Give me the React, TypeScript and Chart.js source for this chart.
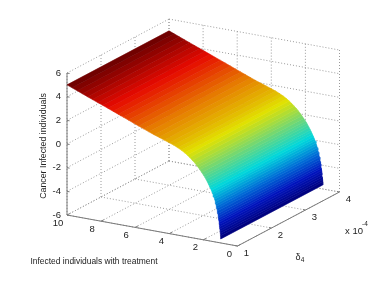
import React, { useEffect, useRef } from "react";
import { Chart, registerables } from "chart.js";

Chart.register(...registerables);

const zTicks = [-6, -4, -2, 0, 2, 4, 6];
const xTicks = [0, 2, 4, 6, 8, 10];
const deltaTicks = [1, 2, 3, 4];
const deltaEnds = [1, 4];

const treated = [10, 9.7, 9.4, 9.1, 8.8, 8.5, 8.2, 7.9, 7.6, 7.3, 7, 6.7, 6.4, 6.1, 5.8, 5.5, 5.2, 4.9, 4.6, 4.3, 4,
  3.75, 3.5, 3.3, 3.1, 2.95, 2.8, 2.65, 2.5, 2.4, 2.3, 2.2, 2.1, 2.0, 1.92, 1.85, 1.78, 1.71, 1.65, 1.59, 1.53, 1.48, 1.43,
  1.38, 1.34, 1.30, 1.27, 1.24, 1.21, 1.18, 1.15, 1.13, 1.11, 1.09, 1.075, 1.06, 1.045, 1.03, 1.015, 1.0, 0.99, 0.98];
const cancer = [5, 4.83, 4.66, 4.49, 4.32, 4.15, 3.98, 3.82, 3.65, 3.48, 3.31, 3.14, 2.97, 2.8, 2.63, 2.46, 2.29, 2.13, 1.98, 1.83, 1.68,
  1.55, 1.39, 1.24, 1.07, 0.92, 0.75, 0.55, 0.36, 0.2, 0.03, -0.14, -0.33, -0.52, -0.68, -0.85, -1.02, -1.2, -1.37, -1.54, -1.71, -1.88, -2.05,
  -2.22, -2.4, -2.6, -2.78, -2.96, -3.15, -3.35, -3.55, -3.73, -3.92, -4.1, -4.28, -4.46, -4.65, -4.83, -5.02, -5.2, -5.4, -5.66];

const paletteR = [0, 0, 0, 0, 110, 225, 230, 230, 105];
const paletteG = [0, 20, 110, 215, 215, 225, 125, 10, 0];
const paletteB = [120, 190, 215, 220, 120, 0, 0, 0, 0];

const project = (X: number, d: number, z: number) => ({
  x: 67 + (10 - X) * 17.05 + (d - 1) * 34,
  y: 215 + (10 - X) * 3.1 - (d - 1) * 18 - (z + 6) * 11.83,
});

const shade = (t: number) => {
  const p = Math.max(0, Math.min(0.9999, t)) * (paletteR.length - 1);
  const i = Math.floor(p);
  const f = p - i;
  const mix = (a: number[]) => Math.round(a[i] + (a[i + 1] - a[i]) * f);
  return `rgb(${mix(paletteR)},${mix(paletteG)},${mix(paletteB)})`;
};

const lineSet = (data: { x: number; y: number }[], color: string, dash: number[] = [], width = 1) => ({
  data, borderColor: color, borderWidth: width, borderDash: dash, showLine: true, pointRadius: 0, fill: false,
});

const GRID = "#9a9a9a";
const AXIS = "#7a7a7a";
const DOTS = [1, 2];

function buildDatasets() {
  const sets: any[] = [];
  const zMin = cancer[cancer.length - 1];
  const zMax = cancer[0];
  for (let i = 0; i < treated.length - 1; i++) {
    const mid = (cancer[i] + cancer[i + 1]) / 2;
    const c = shade((mid - zMin) / (zMax - zMin));
    sets.push({
      data: [
        project(treated[i], deltaEnds[0], cancer[i]),
        project(treated[i], deltaEnds[1], cancer[i]),
        project(treated[i + 1], deltaEnds[1], cancer[i + 1]),
        project(treated[i + 1], deltaEnds[0], cancer[i + 1]),
        project(treated[i], deltaEnds[0], cancer[i]),
      ],
      showLine: true, pointRadius: 0, fill: "shape", backgroundColor: c, borderColor: c, borderWidth: 0.6,
    });
  }
  // axes and tick marks
  sets.push(lineSet([project(10, 1, -6), project(10, 1, 6)], AXIS));
  sets.push(lineSet([project(10, 1, -6), project(0, 1, -6)], AXIS));
  sets.push(lineSet([project(0, 1, -6), project(0, 4, -6)], AXIS));
  zTicks.forEach((z) => sets.push(lineSet([project(10, 1, z), project(9.85, 1, z)], AXIS)));
  xTicks.forEach((X) => sets.push(lineSet([project(X, 1, -6), project(X, 1.08, -6)], AXIS)));
  deltaTicks.forEach((d) => sets.push(lineSet([project(0, d, -6), project(0.15, d, -6)], AXIS)));
  // dotted walls and floor
  zTicks.forEach((z) => {
    sets.push(lineSet([project(10, 1, z), project(10, 4, z)], GRID, DOTS));
    sets.push(lineSet([project(10, 4, z), project(0, 4, z)], GRID, DOTS));
  });
  xTicks.forEach((X) => {
    sets.push(lineSet([project(X, 4, -6), project(X, 4, 6)], GRID, DOTS));
    sets.push(lineSet([project(X, 1, -6), project(X, 4, -6)], GRID, DOTS));
  });
  deltaTicks.forEach((d) => {
    sets.push(lineSet([project(10, d, -6), project(10, d, 6)], GRID, DOTS));
    sets.push(lineSet([project(10, d, -6), project(0, d, -6)], GRID, DOTS));
  });
  return sets;
}

const labelsPlugin = {
  id: "labels3d",
  afterDraw(chart: any) {
    const { ctx, scales } = chart;
    const put = (text: string, p: { x: number; y: number }, dx: number, dy: number, size = 9.5, align: CanvasTextAlign = "center") => {
      ctx.font = `${size}px "Liberation Sans", Arial, sans-serif`;
      ctx.textAlign = align;
      ctx.textBaseline = "middle";
      ctx.fillStyle = "#222222";
      ctx.fillText(text, scales.x.getPixelForValue(p.x + dx), scales.y.getPixelForValue(p.y + dy));
    };
    ctx.save();
    zTicks.forEach((z) => put(String(z), project(10, 1, z), -6, 0, 9.5, "right"));
    xTicks.forEach((X) => put(String(X), project(X, 1, -6), X > 5 ? -9 : -8, 8));
    deltaTicks.forEach((d) => put(String(d), project(0, d, -6), 9, 7));
    put("x 10", { x: 354, y: 231 }, 0, 0);
    put("-4", { x: 365, y: 224 }, 0, 0, 6.5);
    put("δ", { x: 298, y: 258 }, 0, 0, 9);
    put("4", { x: 302.5, y: 260.5 }, 0, 0, 6.5);
    put("Infected individuals with treatment", { x: 94, y: 262 }, 0, 0, 8.45);
    ctx.translate(scales.x.getPixelForValue(44), scales.y.getPixelForValue(146));
    ctx.rotate(-Math.PI / 2);
    ctx.font = '8.8px "Liberation Sans", Arial, sans-serif';
    ctx.fillText("Cancer Infected individuals", 0, 0);
    ctx.restore();
  },
};

export default function App() {
  const ref = useRef<HTMLCanvasElement>(null);
  useEffect(() => {
    document.body.style.margin = "0";
    document.body.style.background = "#fff";
    const chart = new Chart(ref.current!, {
      type: "scatter",
      data: { datasets: buildDatasets() },
      options: {
        animation: false,
        responsive: false,
        layout: { padding: 0 },
        plugins: { legend: { display: false }, tooltip: { enabled: false } },
        scales: {
          x: { type: "linear", display: false, min: 0, max: 387 },
          y: { type: "linear", display: false, min: 0, max: 284, reverse: true },
        },
      },
      plugins: [labelsPlugin],
    } as any);
    return () => chart.destroy();
  }, []);
  return (
    <div style={{ width: 387, height: 284, overflow: "hidden" }}>
      <canvas ref={ref} width={387} height={284} style={{ display: "block", filter: "blur(0.35px)" }} />
    </div>
  );
}
